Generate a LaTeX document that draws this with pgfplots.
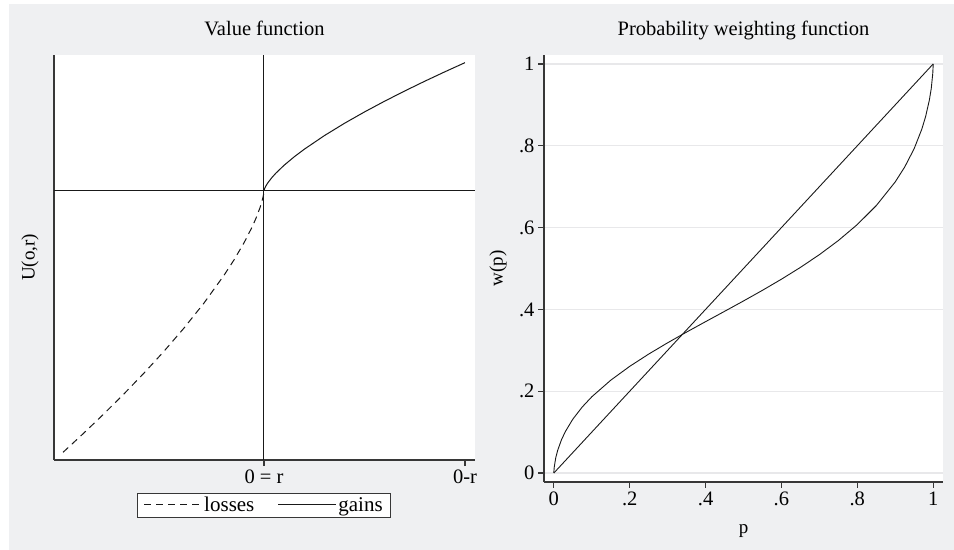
\documentclass[border=0pt]{standalone}
\usepackage{fontspec}
\setmainfont{Liberation Serif}
\usepackage{pgfplots}
\pgfplotsset{compat=1.18}
\definecolor{bggray}{RGB}{239,240,242}
\definecolor{axgray}{RGB}{55,55,55}
\definecolor{gridgray}{RGB}{232,232,234}
\definecolor{curve}{RGB}{25,25,25}
\newcommand\tf{\fontsize{20.5bp}{24bp}\selectfont}
\newcommand\lf{\fontsize{19bp}{22bp}\selectfont}
\newcommand\gf{\fontsize{21bp}{24bp}\selectfont}
\newcommand\ttf{\fontsize{20.5bp}{24bp}\selectfont}
\begin{document}
\begin{tikzpicture}
\fill[white] (0bp,0bp) rectangle (954bp,550bp);
\fill[bggray] (9bp,0bp) rectangle (954bp,546bp);
\pgfplotsset{every axis title shift=0pt}
\begin{axis}[at={(54bp,90bp)}, anchor=south west, width=421bp, height=405bp, scale only axis,
 xmin=-1.045, xmax=1.05, ymin=-2.1, ymax=1.06,
 axis background/.style={fill=white},
 axis lines*=left, axis line style={-, line width=1.1bp, axgray},
 xtick={0,1}, xticklabels={{0 = r},{0-r}}, ytick=\empty,
 tick align=outside, major tick length=6bp, tick style={line width=1.1bp, axgray},
 ticklabel style={font=\tf},
 ylabel={U(o,r)}, ylabel style={font=\lf, at={(axis description cs:-0.057,0.5)}, anchor=center},
 title={Value function}, title style={font=\ttf, at={(axis description cs:0.5,1.049)}, anchor=base},
 legend style={at={(axis description cs:0.4988,-0.111)}, anchor=center, draw=axgray, line width=0.8bp,
   font=\gf, inner xsep=6bp, inner ysep=2.5bp, nodes={inner sep=1.5bp},
   /tikz/every even column/.append style={column sep=22bp}},
 legend columns=2,
 legend image code/.code={\draw[#1] (0bp,0bp) -- (58bp,0bp);},
 clip=false]
\addplot[curve, line width=1bp, forget plot] coordinates {(-1.045,0) (1.05,0)};
\addplot[curve, line width=1bp, forget plot] coordinates {(0,-2.1) (0,1.06)};
\addplot[curve, line width=1bp, dash pattern=on 7bp off 5bp] coordinates {
(-1,-2.04) (-0.9,-1.89496) (-0.8,-1.745) (-0.7,-1.58928) (-0.6,-1.42669) (-0.5,-1.25576)
(-0.4,-1.07416) (-0.3,-0.87826) (-0.2,-0.66123) (-0.15,-0.54066) (-0.1,-0.40704)
(-0.06,-0.28464) (-0.04,-0.21436) (-0.02,-0.13195) (-0.01,-0.08121) (-0.005,-0.05)
(-0.002,-0.02632) (-0.0005,-0.00998) (0,0)};
\addlegendentry{losses}
\addplot[curve, line width=1bp] coordinates {
(0,0) (0.0005,0.00489) (0.002,0.0129) (0.005,0.02451) (0.01,0.03981) (0.02,0.06468)
(0.04,0.10508) (0.06,0.13953) (0.1,0.19953) (0.15,0.26503) (0.2,0.32413) (0.3,0.43052)
(0.4,0.52655) (0.5,0.61557) (0.6,0.69936) (0.7,0.77906) (0.8,0.85539) (0.9,0.9289) (1,1)};
\addlegendentry{gains}
\end{axis}
\begin{axis}[at={(544bp,68bp)}, anchor=south west, width=399bp, height=427bp, scale only axis,
 xmin=-0.026, xmax=1.026, ymin=-0.022, ymax=1.022,
 axis background/.style={fill=white},
 axis lines*=left, axis line style={-, line width=1.1bp, axgray},
 xtick={0,0.2,0.4,0.6,0.8,1}, xticklabels={0,.2,.4,.6,.8,1},
 ytick={0,0.2,0.4,0.6,0.8,1}, yticklabels={0,.2,.4,.6,.8,1},
 ymajorgrids, grid style={gridgray, line width=1.2bp},
 tick align=outside, major tick length=6bp, tick style={line width=1.1bp, axgray},
 ticklabel style={font=\tf},
 xlabel={p}, xlabel style={font=\lf, at={(axis description cs:0.5,-0.115)}, anchor=center},
 ylabel={w(p)}, ylabel style={font=\lf, at={(axis description cs:-0.115,0.5)}, anchor=center},
 title={Probability weighting function}, title style={font=\ttf, at={(axis description cs:0.5,1.0468)}, anchor=base},
 clip=false]
\addplot[curve, line width=0.9bp] coordinates {(0,0) (1,1)};
\addplot[curve, line width=0.9bp] coordinates {
(0,0) (0.0001,0.003608) (0.001,0.01445) (0.005,0.03723) (0.01,0.05525) (0.02,0.0811)
(0.03,0.10082) (0.05,0.13164) (0.075,0.16159) (0.1,0.18631) (0.15,0.22693) (0.2,0.26077)
(0.25,0.29075) (0.3,0.31836) (0.35,0.34458) (0.4,0.37003) (0.45,0.39523) (0.5,0.42063)
(0.55,0.44669) (0.6,0.47384) (0.65,0.50265) (0.7,0.53381) (0.75,0.56828) (0.8,0.60743)
(0.85,0.65371) (0.9,0.71172) (0.925,0.74812) (0.95,0.79318) (0.97,0.84041) (0.98,0.87104)
(0.99,0.91161) (0.995,0.94016) (0.999,0.9766) (0.9999,0.99411) (1,1)};
\end{axis}
\end{tikzpicture}
\end{document}
